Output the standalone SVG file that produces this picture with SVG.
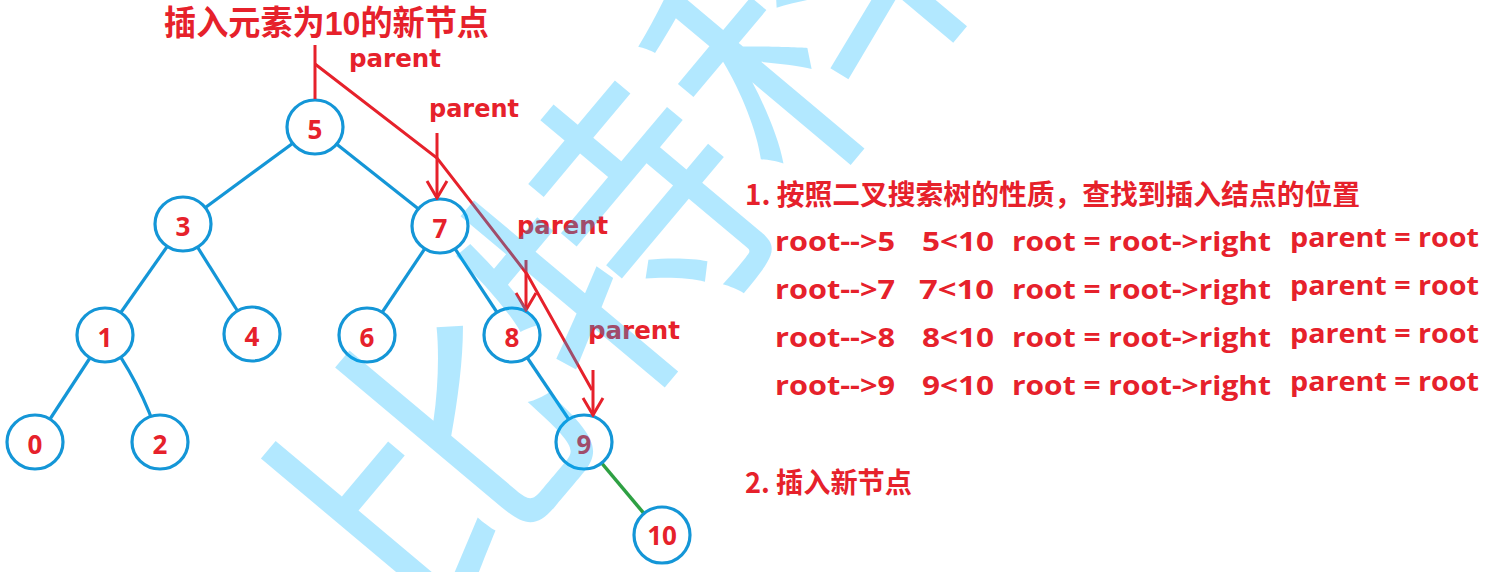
<svg xmlns="http://www.w3.org/2000/svg" width="1486" height="572" viewBox="0 0 1486 572">
<style>
.edge{stroke:#1496d7;stroke-width:3.2;fill:none}
.green{stroke:#2ea043;stroke-width:3.5;fill:none}
.node ellipse{fill:#fff;stroke:#1496d7;stroke-width:3.2}
.node text{font-family:"Open Sans","DejaVu Sans",sans-serif;font-weight:bold;font-size:26px;fill:#e6212b;text-anchor:middle}
.red{stroke:#e6212b;stroke-width:3;fill:none}
.lbl{font-family:"DejaVu Sans","Liberation Sans",sans-serif;font-weight:bold;font-size:24px;fill:#e6212b}
.cjk{font-family:"Noto Sans CJK SC",sans-serif;font-weight:bold;fill:#e6212b}
.title{font-family:"Liberation Sans","Noto Sans CJK SC",sans-serif;font-weight:bold;fill:#e6212b}
.row{font-family:"Open Sans","Liberation Sans",sans-serif;font-weight:bold;font-size:27px;fill:#e6212b}
.wm{font-family:"Noto Sans CJK SC",sans-serif;font-size:290px;fill:#00b4ff;fill-opacity:0.3}
</style>
<defs>
<marker id="vhead" viewBox="-20 -12 22 24" refX="0" refY="0" markerWidth="22" markerHeight="24" markerUnits="userSpaceOnUse" orient="auto">
<path d="M-17,-10 L0,0 L-17,10" fill="none" stroke="#e6212b" stroke-width="3"/>
</marker>
</defs>
<rect width="1486" height="572" fill="#fff"/>

<g id="connectors">
<line class="edge" x1="315" y1="127" x2="183" y2="224"/>
<line class="edge" x1="315" y1="127" x2="440" y2="226"/>
<line class="edge" x1="183" y1="224" x2="105" y2="335"/>
<line class="edge" x1="183" y1="224" x2="252" y2="334"/>
<line class="edge" x1="440" y1="226" x2="367" y2="335"/>
<line class="edge" x1="440" y1="226" x2="512" y2="335"/>
<line class="edge" x1="105" y1="335" x2="35" y2="442"/>
<path class="edge" d="M105,335 Q140,380 160,442"/>
<line class="edge" x1="512" y1="335" x2="584" y2="442"/>
<line class="green" x1="584" y1="442" x2="662" y2="535"/>
</g>

<g id="node-5" class="node"><ellipse cx="315" cy="127" rx="28" ry="27"/><text x="315" y="139">5</text></g>
<g id="node-3" class="node"><ellipse cx="183" cy="224" rx="28" ry="27"/><text x="183" y="236">3</text></g>
<g id="node-7" class="node"><ellipse cx="440" cy="226" rx="28" ry="27"/><text x="440" y="238">7</text></g>
<g id="node-1" class="node"><ellipse cx="105" cy="335" rx="28" ry="27"/><text x="105" y="347">1</text></g>
<g id="node-4" class="node"><ellipse cx="252" cy="334" rx="28" ry="27"/><text x="252" y="346">4</text></g>
<g id="node-6" class="node"><ellipse cx="367" cy="335" rx="28" ry="27"/><text x="367" y="347">6</text></g>
<g id="node-8" class="node"><ellipse cx="512" cy="335" rx="28" ry="27"/><text x="512" y="347">8</text></g>
<g id="node-0" class="node"><ellipse cx="35" cy="442" rx="28" ry="27"/><text x="35" y="454">0</text></g>
<g id="node-2" class="node"><ellipse cx="160" cy="442" rx="28" ry="27"/><text x="160" y="454">2</text></g>
<g id="node-9" class="node"><ellipse cx="584" cy="442" rx="28" ry="27"/><text x="584" y="454">9</text></g>
<g id="node-10" class="node"><ellipse cx="662" cy="535" rx="28" ry="28"/><text x="662" y="545">10</text></g>

<g id="search-path">
<line class="red" x1="315" y1="45" x2="315" y2="99"/>
<polyline class="red" points="315,64 437,158 527,274 592,390"/>
<line class="red" x1="437" y1="133" x2="437" y2="198" marker-end="url(#vhead)"/>
<line class="red" x1="526" y1="260" x2="526" y2="310" marker-end="url(#vhead)"/>
<line class="red" x1="593" y1="370" x2="593" y2="415" marker-end="url(#vhead)"/>
</g>

<g id="labels">
<text class="title" x="164" y="35" font-size="34" textLength="325" lengthAdjust="spacingAndGlyphs">插入元素为10的新节点</text>
<text class="lbl" x="349" y="67" textLength="92" lengthAdjust="spacingAndGlyphs">parent</text>
<text class="lbl" x="429" y="117" textLength="90" lengthAdjust="spacingAndGlyphs">parent</text>
<text class="lbl" x="517" y="234" textLength="91" lengthAdjust="spacingAndGlyphs">parent</text>
<text class="lbl" x="588" y="339" textLength="92" lengthAdjust="spacingAndGlyphs">parent</text>
</g>

<g id="steps">
<text class="cjk" x="745" y="205" font-size="28" textLength="615" lengthAdjust="spacingAndGlyphs">1. 按照二叉搜索树的性质，查找到插入结点的位置</text>
<text class="row" x="775" y="251" textLength="120" lengthAdjust="spacingAndGlyphs">root--&gt;5</text>
<text class="row" x="922" y="251" textLength="72" lengthAdjust="spacingAndGlyphs">5&lt;10</text>
<text class="row" x="1012" y="251" textLength="259" lengthAdjust="spacingAndGlyphs">root = root-&gt;right</text>
<text class="row" x="1290" y="247" textLength="189" lengthAdjust="spacingAndGlyphs">parent = root</text>
<text class="row" x="775" y="299" textLength="120" lengthAdjust="spacingAndGlyphs">root--&gt;7</text>
<text class="row" x="919" y="299" textLength="75" lengthAdjust="spacingAndGlyphs">7&lt;10</text>
<text class="row" x="1012" y="299" textLength="259" lengthAdjust="spacingAndGlyphs">root = root-&gt;right</text>
<text class="row" x="1290" y="295" textLength="189" lengthAdjust="spacingAndGlyphs">parent = root</text>
<text class="row" x="775" y="347" textLength="120" lengthAdjust="spacingAndGlyphs">root--&gt;8</text>
<text class="row" x="922" y="347" textLength="72" lengthAdjust="spacingAndGlyphs">8&lt;10</text>
<text class="row" x="1012" y="347" textLength="259" lengthAdjust="spacingAndGlyphs">root = root-&gt;right</text>
<text class="row" x="1290" y="343" textLength="189" lengthAdjust="spacingAndGlyphs">parent = root</text>
<text class="row" x="775" y="395" textLength="120" lengthAdjust="spacingAndGlyphs">root--&gt;9</text>
<text class="row" x="922" y="395" textLength="72" lengthAdjust="spacingAndGlyphs">9&lt;10</text>
<text class="row" x="1012" y="395" textLength="259" lengthAdjust="spacingAndGlyphs">root = root-&gt;right</text>
<text class="row" x="1290" y="391" textLength="189" lengthAdjust="spacingAndGlyphs">parent = root</text>
<text class="cjk" x="745" y="493" font-size="28" textLength="167" lengthAdjust="spacingAndGlyphs">2. 插入新节点</text>
</g>

<g id="watermark">
<text class="wm" transform="translate(430,460) rotate(-50)" x="-145" y="110">比特科技</text>
</g>
</svg>
